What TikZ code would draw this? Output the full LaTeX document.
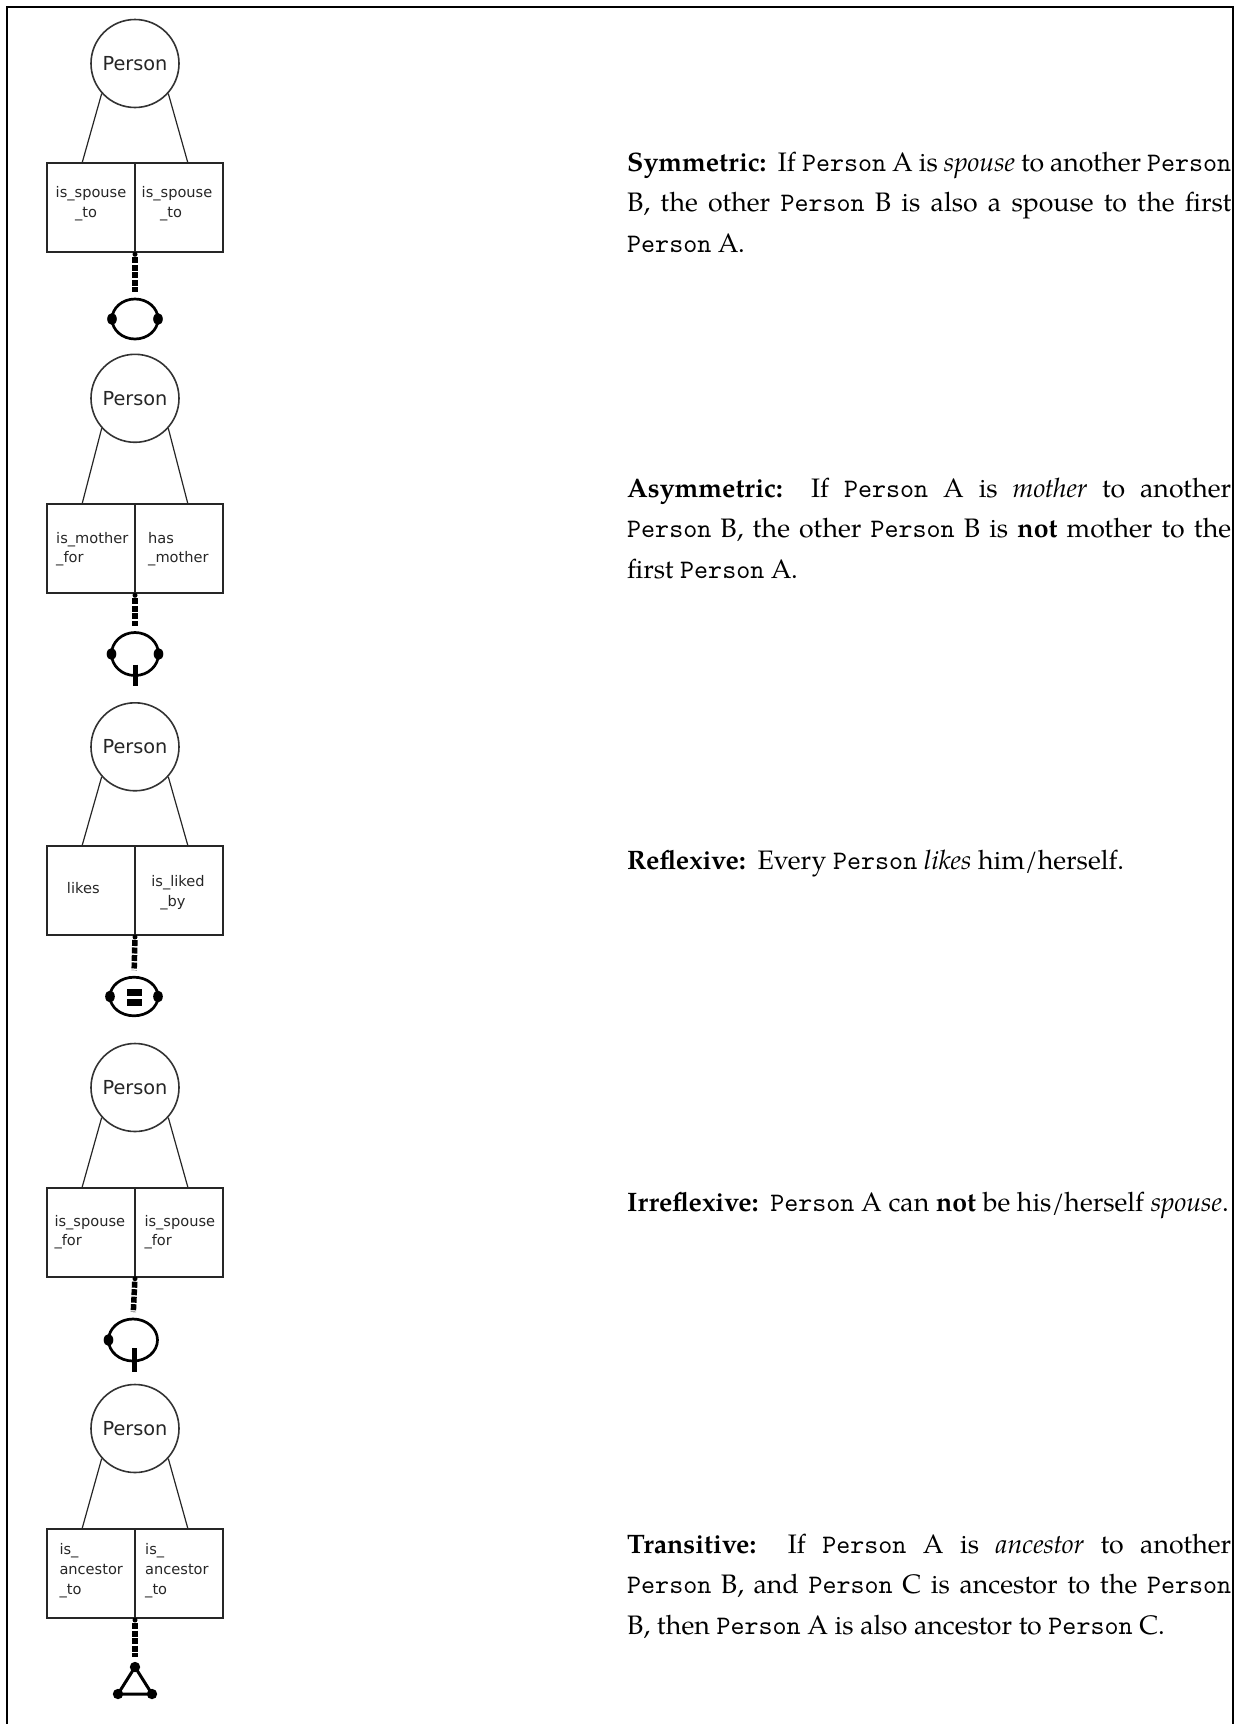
\documentclass[tikz,border=0pt]{standalone}
\usepackage{fontspec}
\usetikzlibrary{shapes.geometric}
\setmainfont{texgyrepagella}[Extension=.otf, UprightFont=*-regular, BoldFont=*-bold, ItalicFont=*-italic, BoldItalicFont=*-bolditalic]
\setmonofont{lmmono10-regular}[Extension=.otf, Scale=1.0]
\newfontfamily\dvfam{DejaVu Sans}
\newcommand\dvp{\dvfam\fontsize{19.3}{23}\selectfont}
\newcommand\dvs{\dvfam\fontsize{14.6}{20}\selectfont}
\newcommand\bodyfont{\fontsize{26.7}{40.7}\selectfont}
\newcommand\jline[1]{\makebox[604pt][s]{\strut #1}}
\newcommand\Pn{\texttt{Person}}
\newcommand\lsep{\hspace{3pt}}
\tikzset{
 ent/.style={circle, draw=black!80, line width=1.6pt, minimum size=88pt, inner sep=0pt, font=\dvp, text=black!85},
 cell/.style={rectangle, draw=black!85, line width=2pt, minimum width=88pt, minimum height=89pt, inner sep=0pt, outer sep=0pt},
 role/.style={line width=1.2pt, draw=black!85},
 conn/.style={line width=5.5pt, dash pattern=on 6pt off 1.5pt, shorten <=5pt, shorten >=7pt},
 ring/.style={ellipse, draw, line width=2.7pt, inner sep=0pt, outer sep=0pt},
 lbl/.style={inner sep=0pt, font=\dvs, text=black!85},
 tick/.style={line width=5pt},
 para/.style={text width=604pt, inner sep=0pt, anchor=north west, align=justify, font=\bodyfont}
}
\newcommand\ormblock[3]{%
 \node[ent] (p#1) at (135,#2) {Person};
 \node[cell, anchor=north east] (L#1) at (135,#3) {};
 \node[cell, anchor=north west] (R#1) at (135,#3) {};
 \coordinate (a#1) at (82,#3);
 \coordinate (b#1) at (188,#3);
 \draw[role] (p#1.222) -- (a#1);
 \draw[role] (p#1.318) -- (b#1);
 \fill (L#1.south east) ++(0,2) circle (2.5pt);
}
\begin{document}
\begin{tikzpicture}[x=1pt,y=-1pt]
\useasboundingbox (0,0) rectangle (1237,1724);
\draw[line width=2pt] (6.5,1724) -- (6.5,6.5) -- (1232.5,6.5) -- (1232.5,1724);

% ---------- block 1: symmetric
\ormblock{1}{63.5}{163.3}
\node[lbl, anchor=base] (t1a) at (91,197.5) {is\_spouse};
\node[lbl, anchor=base] (t1b) at (86,217.5) {\_to};
\node[lbl, anchor=base] (t1c) at (177,197.5) {is\_spouse};
\node[lbl, anchor=base] (t1d) at (171,217.5) {\_to};
\node[ring, minimum width=46pt, minimum height=40pt] (ic1) at (135,319) {};
\draw[conn] (L1.south east) -- (ic1.north);
\fill (ic1.west) ellipse [x radius=4.8pt, y radius=6pt];
\fill (ic1.east) ellipse [x radius=4.8pt, y radius=6pt];

% ---------- block 2: asymmetric
\ormblock{2}{398.3}{504.3}
\node[lbl, anchor=base west] (t2a) at (56,543.5) {is\_mother};
\node[lbl, anchor=base west] (t2b) at (56,562.5) {\_for};
\node[lbl, anchor=base west] (t2c) at (148,543.5) {has};
\node[lbl, anchor=base west] (t2d) at (148,562.5) {\_mother};
\node[ring, minimum width=47pt, minimum height=43pt] (ic2) at (135,654) {};
\draw[conn] (L2.south east) -- (ic2.north);
\fill (ic2.west) ellipse [x radius=4.8pt, y radius=6pt];
\fill (ic2.east) ellipse [x radius=4.8pt, y radius=6pt];
\draw[tick] ([yshift=11pt]ic2.south) -- ([yshift=-10pt]ic2.south);

% ---------- block 3: reflexive
\ormblock{3}{746.8}{846}
\node[lbl, anchor=base] (t3a) at (83.3,893.5) {likes};
\node[lbl, anchor=base] (t3b) at (178,886) {is\_liked};
\node[lbl, anchor=base] (t3c) at (173,906) {\_by};
\node[ring, minimum width=48pt, minimum height=38.6pt] (ic3) at (134,996.5) {};
\draw[conn] (L3.south east) -- (ic3.north);
\fill (ic3.west) ellipse [x radius=4.8pt, y radius=6pt];
\fill (ic3.east) ellipse [x radius=4.8pt, y radius=6pt];
\fill (126.7,989) rectangle (141.7,995.5);
\fill (126.7,999) rectangle (141.7,1005.5);

% ---------- block 4: irreflexive
\ormblock{4}{1087.5}{1187.7}
\node[lbl, anchor=base west] (t4a) at (54.3,1226) {is\_spouse};
\node[lbl, anchor=base west] (t4b) at (54.3,1245) {\_for};
\node[lbl, anchor=base west] (t4c) at (144.3,1226) {is\_spouse};
\node[lbl, anchor=base west] (t4d) at (144.3,1245) {\_for};
\node[ring, minimum width=49pt, minimum height=42pt] (ic4) at (133,1340) {};
\draw[conn] (L4.south east) -- (ic4.north);
\fill (ic4.west) ellipse [x radius=4.8pt, y radius=6pt];
\draw[tick] (134,1348) -- (134,1372);

% ---------- block 5: transitive
\ormblock{5}{1428.5}{1529}
\node[lbl, anchor=base west] (t5a) at (59.3,1554.5) {is\_};
\node[lbl, anchor=base west] (t5b) at (59.3,1574.5) {ancestor};
\node[lbl, anchor=base west] (t5c) at (59.3,1594.5) {\_to};
\node[lbl, anchor=base west] (t5d) at (145,1554.5) {is\_};
\node[lbl, anchor=base west] (t5e) at (145,1574.5) {ancestor};
\node[lbl, anchor=base west] (t5f) at (145,1594.5) {\_to};
\coordinate (v5a) at (135,1667);
\coordinate (v5b) at (118,1694);
\coordinate (v5c) at (152,1694);
\draw[conn, shorten >=10pt] (L5.south east) -- (v5a);
\draw[line width=3pt, line join=round] (v5a) -- (v5b) -- (v5c) -- cycle;
\fill (v5a) circle (5.2pt);
\fill (v5b) circle (5.2pt);
\fill (v5c) circle (5.2pt);

% ---------- texts
\node[para] (d1) at (627,142.5) {\jline{\textbf{Symmetric:}\lsep{} If \Pn{} A is \emph{spouse} to another \Pn}\\
\jline{B, the other \Pn{} B is also a spouse to the first}\\
\strut\Pn{} A.};
\node[para] (d2) at (627,468.5) {\jline{\textbf{Asymmetric:}\lsep{} If \Pn{} A is \emph{mother} to another}\\
\jline{\Pn{} B, the other \Pn{} B is \textbf{not} mother to the}\\
\strut first \Pn{} A.};
\node[para] (d3) at (627,840.5) {\mbox{\strut\textbf{Reflexive:}\lsep{} Every \Pn{} \emph{likes} him/herself.}};
\node[para] (d4) at (627,1182.5) {\mbox{\strut\textbf{Irreflexive:}\lsep{} \Pn{} A can \textbf{not} be his/herself \emph{spouse}.}};
\node[para] (d5) at (627,1524.5) {\jline{\textbf{Transitive:}\lsep{} If \Pn{} A is \emph{ancestor} to another}\\
\jline{\Pn{} B, and \Pn{} C is ancestor to the \Pn}\\
\strut B, then \Pn{} A is also ancestor to \Pn{} C.};
\end{tikzpicture}
\end{document}
